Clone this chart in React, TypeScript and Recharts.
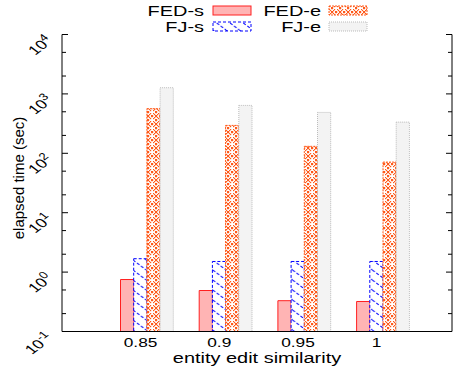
import React from 'react';
import { BarChart, Bar, XAxis, YAxis } from 'recharts';

const categories = ['0.85', '0.9', '0.95', '1'];
const fedS = [0.75, 0.49, 0.33, 0.32];
const fjS = [1.68, 1.51, 1.51, 1.51];
const fedE = [564, 295, 131, 71];
const fjE = [1270, 640, 488, 335];
const majorTicks = [0.1, 1, 10, 100, 1000, 10000];
const tickExponents = ['-1', '0', '1', '2', '3', '4'];
const minorTicks = [0.2, 0.5, 2, 5, 20, 50, 200, 500, 2000, 5000];
const seriesNames = ['FED-s', 'FJ-s', 'FED-e', 'FJ-e'];

const data = categories.map((c, i) => ({
  cat: c,
  fedS: fedS[i],
  fjS: fjS[i],
  fedE: fedE[i],
  fjE: fjE[i],
}));

const FONT = "'Liberation Sans', Arial, Helvetica, sans-serif";
const SX = 1.33;
const TICK_SHIFT = -6.3;

const LeftTick = (props: any) => {
  const { x, y, payload } = props;
  const idx = majorTicks.indexOf(payload.value);
  const major = idx >= 0;
  return (
    <g>
      <line x1={x} x2={x + (major ? 6 : 4)} y1={y} y2={y} stroke="#000" strokeWidth={1} />
      {major && (
        <text
          transform={`translate(${x - 8} ${y + 7}) scale(${SX} 1) rotate(-45)`}
          textAnchor="end"
          fontSize={13}
          fontFamily={FONT}
          fill="#000"
        >
          10
          <tspan dy={-5} fontSize={10}>
            {tickExponents[idx]}
          </tspan>
        </text>
      )}
    </g>
  );
};

const RightTick = (props: any) => {
  const { x, y, payload } = props;
  const major = majorTicks.indexOf(payload.value) >= 0;
  return <line x1={x} x2={x - (major ? 6 : 4)} y1={y} y2={y} stroke="#000" strokeWidth={1} />;
};

const BottomTick = (props: any) => {
  const { x, y, payload } = props;
  return (
    <text
      transform={`translate(${x + TICK_SHIFT} ${y + 15}) scale(${SX} 1)`}
      textAnchor="middle"
      fontSize={13}
      fontFamily={FONT}
      fill="#000"
    >
      {payload.value}
    </text>
  );
};

const TopTick = (props: any) => {
  const { x, y } = props;
  return <line x1={x + TICK_SHIFT} x2={x + TICK_SHIFT} y1={y} y2={y + 6} stroke="#000" strokeWidth={1} />;
};

const XTitle = (props: any) => {
  const vb = props.viewBox;
  return (
    <text
      transform={`translate(${vb.x + vb.width / 2} ${vb.y + 31.5}) scale(${SX} 1)`}
      textAnchor="middle"
      fontSize={15}
      fontFamily={FONT}
      fill="#000"
    >
      entity edit similarity
    </text>
  );
};

const YTitle = (props: any) => {
  const vb = props.viewBox;
  return (
    <text
      transform={`translate(${vb.x + 24} ${vb.y + vb.height / 2 - 5}) rotate(-90)`}
      textAnchor="middle"
      fontSize={15}
      fontFamily={FONT}
      fill="#000"
    >
      elapsed time (sec)
    </text>
  );
};

const fedEDots: number[][] = [
  [3, 0], [4, 0], [1, 1], [6, 1], [0, 3], [7, 3], [0, 4], [7, 4], [1, 6], [6, 6], [3, 7], [4, 7],
  [3, 3], [4, 4], [3, 4], [4, 3], [2, 2], [5, 5], [5, 2], [2, 5],
];

const styles = [
  { fill: '#ffb4b4', stroke: '#ff2020', dash: undefined as string | undefined },
  { fill: 'url(#pat-fjs)', stroke: '#0000ff', dash: '3 2' },
  { fill: 'url(#pat-fede)', stroke: '#ff5a1a', dash: '2 1' },
  { fill: '#f3f3f3', stroke: '#bbbbbb', dash: '1 1' },
];

const Legend = () => {
  const rows = [
    { y: 16, items: [0, 2] },
    { y: 32, items: [1, 3] },
  ];
  const textEnds = [204, 321];
  const boxX = [213, 329];
  return (
    <svg
      width={453}
      height={34}
      style={{ position: 'absolute', left: 0, top: 0, pointerEvents: 'none' }}
    >
      <defs>
        <pattern id="pat-fjs" patternUnits="userSpaceOnUse" width={13.3} height={10}>
          <rect width={13.3} height={10} fill="#ffffff" />
          <path
            d="M0,0 L13.3,10 M-13.3,0 L0,10 M0,-10 L13.3,0"
            stroke="#0000ff"
            strokeWidth={1}
            strokeDasharray="3 2"
          />
        </pattern>
        <pattern id="pat-fede" patternUnits="userSpaceOnUse" width={8} height={8}>
          <rect width={8} height={8} fill="#ffffff" />
          {fedEDots.map((d, i) => (
            <rect key={i} x={d[0]} y={d[1]} width={1.2} height={1.2} fill="#ff5a1a" />
          ))}
        </pattern>
      </defs>
      {rows.map((row, r) =>
        row.items.map((s, c) => (
          <g key={`${r}-${c}`}>
            <text
              transform={`translate(${textEnds[c]} ${row.y}) scale(${SX} 1)`}
              textAnchor="end"
              fontSize={15}
              fontFamily={FONT}
              fill="#000"
            >
              {seriesNames[s]}
            </text>
            <rect
              x={boxX[c]}
              y={row.y - 10}
              width={38}
              height={9}
              fill={styles[s].fill}
              stroke={styles[s].stroke}
              strokeDasharray={styles[s].dash}
              strokeWidth={1}
            />
          </g>
        ))
      )}
    </svg>
  );
};

const keys = ['fedS', 'fjS', 'fedE', 'fjE'];

export default function App() {
  return (
    <div style={{ position: 'absolute', left: 0, top: 0, width: 453, height: 372, background: '#fff' }}>
      <BarChart
        width={453}
        height={372}
        data={data}
        margin={{ top: 34.5, right: 0, bottom: 0.5, left: 0 }}
        barGap={0}
        barSize={13.2}
      >
        <XAxis
          dataKey="cat"
          type="category"
          interval={0}
          height={40}
          padding={{ left: 45.5, right: 29.7 }}
          axisLine={{ stroke: '#000', strokeWidth: 1 }}
          tickLine={false}
          tickSize={0}
          tickMargin={0}
          tick={<BottomTick />}
          label={(p: any) => <XTitle {...p} />}
        />
        <XAxis
          xAxisId="t"
          dataKey="cat"
          type="category"
          orientation="top"
          interval={0}
          height={0}
          padding={{ left: 45.5, right: 29.7 }}
          axisLine={{ stroke: '#000', strokeWidth: 1 }}
          tickLine={false}
          tickSize={0}
          tickMargin={0}
          tick={<TopTick />}
        />
        <YAxis
          type="number"
          scale="log"
          domain={[0.1, 10000]}
          allowDataOverflow
          ticks={[...majorTicks, ...minorTicks]}
          interval={0}
          width={62}
          axisLine={{ stroke: '#000', strokeWidth: 1 }}
          tickLine={false}
          tickSize={0}
          tickMargin={0}
          tick={<LeftTick />}
          label={(p: any) => <YTitle {...p} />}
        />
        <YAxis
          yAxisId="r"
          orientation="right"
          type="number"
          scale="log"
          domain={[0.1, 10000]}
          allowDataOverflow
          ticks={[...majorTicks, ...minorTicks]}
          interval={0}
          width={1}
          axisLine={{ stroke: '#000', strokeWidth: 1 }}
          tickLine={false}
          tickSize={0}
          tickMargin={0}
          tick={<RightTick />}
        />
        {keys.map((k, i) => (
          <Bar
            key={k}
            dataKey={k}
            name={seriesNames[i]}
            fill={styles[i].fill}
            stroke={styles[i].stroke}
            strokeDasharray={styles[i].dash}
            strokeWidth={1}
            isAnimationActive={false}
          />
        ))}
      </BarChart>
      <Legend />
    </div>
  );
}
